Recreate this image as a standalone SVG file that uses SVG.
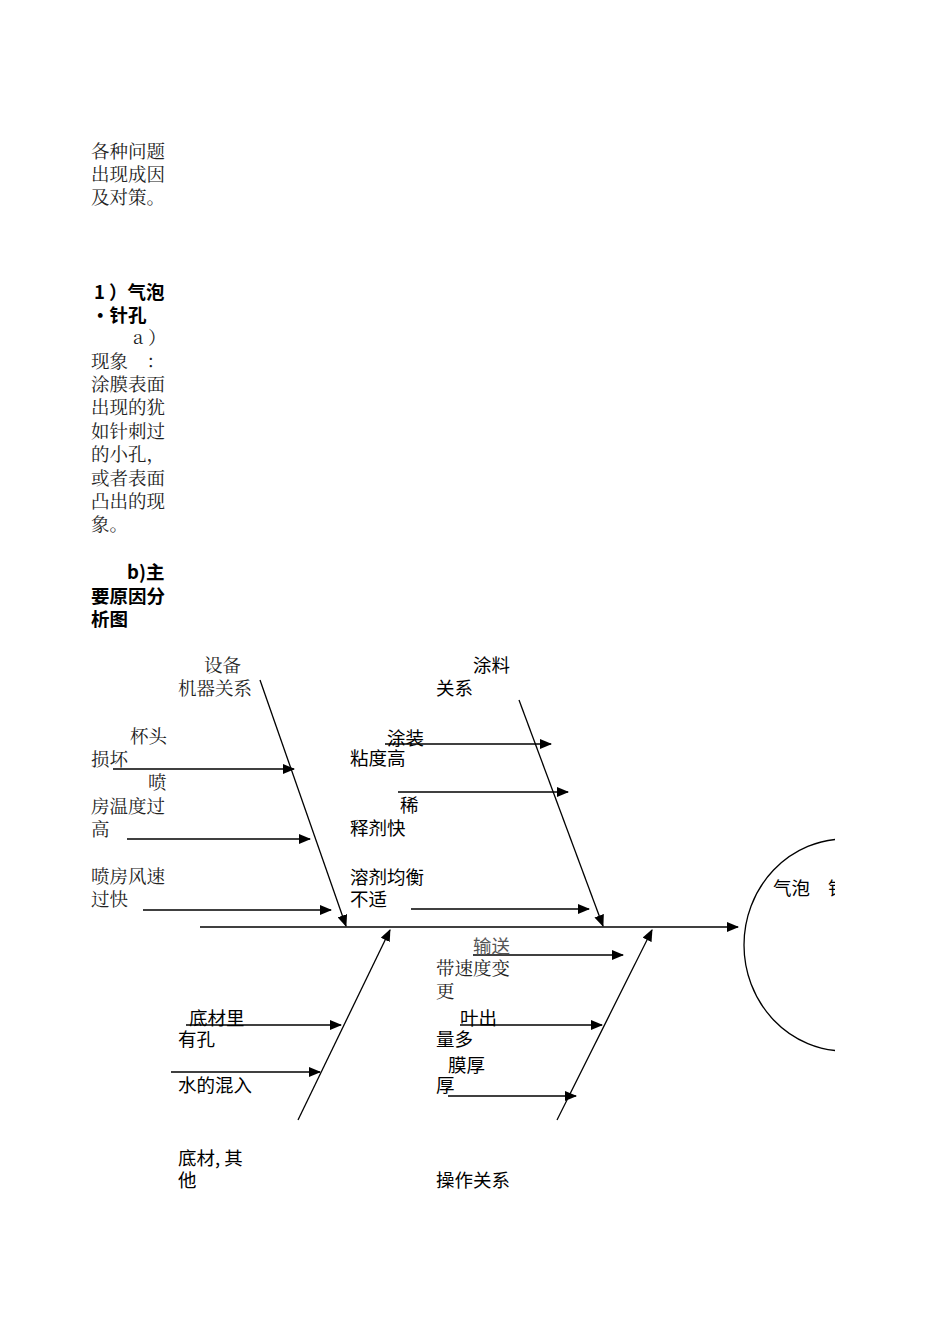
<svg xmlns="http://www.w3.org/2000/svg" width="950" height="1344" viewBox="0 0 950 1344">
<style>
text{font-family:"Noto Sans CJK SC","Liberation Sans",sans-serif;font-size:18.5px;fill:#000}
.s{font-family:"Noto Serif CJK SC","Noto Sans CJK SC",serif;fill:#222}
.b{font-weight:bold}
.g{fill:#555}
line{stroke:#000;stroke-width:1.3}
.a{marker-end:url(#ah)}
</style>
<defs>
<marker id="ah" markerWidth="12" markerHeight="10" refX="11" refY="5" orient="auto" markerUnits="userSpaceOnUse"><path d="M0,0 L12,5 L0,10 Z" fill="#000"/></marker>
<clipPath id="cp"><rect x="0" y="0" width="835" height="1344"/></clipPath>
</defs>
<g id="intro">
<text x="91" y="158" class="s">各种问题</text>
<text x="91" y="181" class="s">出现成因</text>
<text x="91" y="204" class="s">及对策。</text>
<text x="94" y="299" class="b">1 ）气泡</text>
<text x="91" y="322" class="b">・针孔</text>
<text x="133" y="344" class="s">a ）</text>
<text x="91" y="368" class="s">现象　：</text>
<text x="91" y="391" class="s">涂膜表面</text>
<text x="91" y="414" class="s">出现的犹</text>
<text x="91" y="438" class="s">如针刺过</text>
<text x="91" y="461" class="s">的小孔，</text>
<text x="91" y="485" class="s">或者表面</text>
<text x="91" y="508" class="s">凸出的现</text>
<text x="91" y="531" class="s">象。</text>
<text x="127" y="579" class="b">b)主</text>
<text x="91" y="603" class="b">要原因分</text>
<text x="91" y="626" class="b">析图</text>
</g>
<g id="connectors">
<line x1="200" y1="927" x2="738" y2="927" class="a"/>
<line x1="260" y1="680" x2="346" y2="926" class="a"/>
<line x1="519" y1="700" x2="603" y2="926" class="a"/>
<line x1="298" y1="1120" x2="390" y2="930" class="a"/>
<line x1="557" y1="1120" x2="652" y2="930" class="a"/>
<line x1="113" y1="769" x2="294" y2="769" class="a"/>
<line x1="127" y1="839" x2="310" y2="839" class="a"/>
<line x1="143" y1="910" x2="331" y2="910" class="a"/>
<line x1="385" y1="744" x2="551" y2="744" class="a"/>
<line x1="398" y1="792" x2="568" y2="792" class="a"/>
<line x1="411" y1="909" x2="589" y2="909" class="a"/>
<line x1="473" y1="955" x2="623" y2="955" class="a"/>
<line x1="460" y1="1025" x2="602" y2="1025" class="a"/>
<line x1="448" y1="1096" x2="576" y2="1096" class="a"/>
<line x1="186" y1="1025" x2="341" y2="1025" class="a"/>
<line x1="171" y1="1072" x2="320" y2="1072" class="a"/>
</g>
<g id="head" clip-path="url(#cp)">
<ellipse cx="845" cy="945" rx="101" ry="106" fill="none" stroke="#000" stroke-width="1.3"/>
<text x="773" y="895">气泡</text>
<text x="828" y="895">针</text>
</g>
<g id="labels">
<text x="204" y="672" class="s">设备</text>
<text x="178" y="695" class="s">机器关系</text>
<text x="130" y="743" class="s">杯头</text>
<text x="91" y="766" class="s">损坏</text>
<text x="148" y="789" class="s">喷</text>
<text x="91" y="813" class="s">房温度过</text>
<text x="91" y="836" class="s">高</text>
<text x="91" y="883" class="s">喷房风速</text>
<text x="91" y="906" class="s">过快</text>
<text x="473" y="672">涂料</text>
<text x="436" y="695">关系</text>
<text x="387" y="745">涂装</text>
<text x="350" y="765">粘度高</text>
<text x="400" y="812">稀</text>
<text x="350" y="835">释剂快</text>
<text x="350" y="884">溶剂均衡</text>
<text x="350" y="906">不适</text>
<text x="473" y="953" class="g">输送</text>
<text x="436" y="975" class="s">带速度变</text>
<text x="436" y="998" class="s">更</text>
<text x="460" y="1025">叶出</text>
<text x="436" y="1046">量多</text>
<text x="448" y="1072">膜厚</text>
<text x="436" y="1092">厚</text>
<text x="436" y="1187">操作关系</text>
<text x="189" y="1025">底材里</text>
<text x="178" y="1046">有孔</text>
<text x="178" y="1092">水的混入</text>
<text x="178" y="1165">底材, 其</text>
<text x="178" y="1187">他</text>
</g>
</svg>
